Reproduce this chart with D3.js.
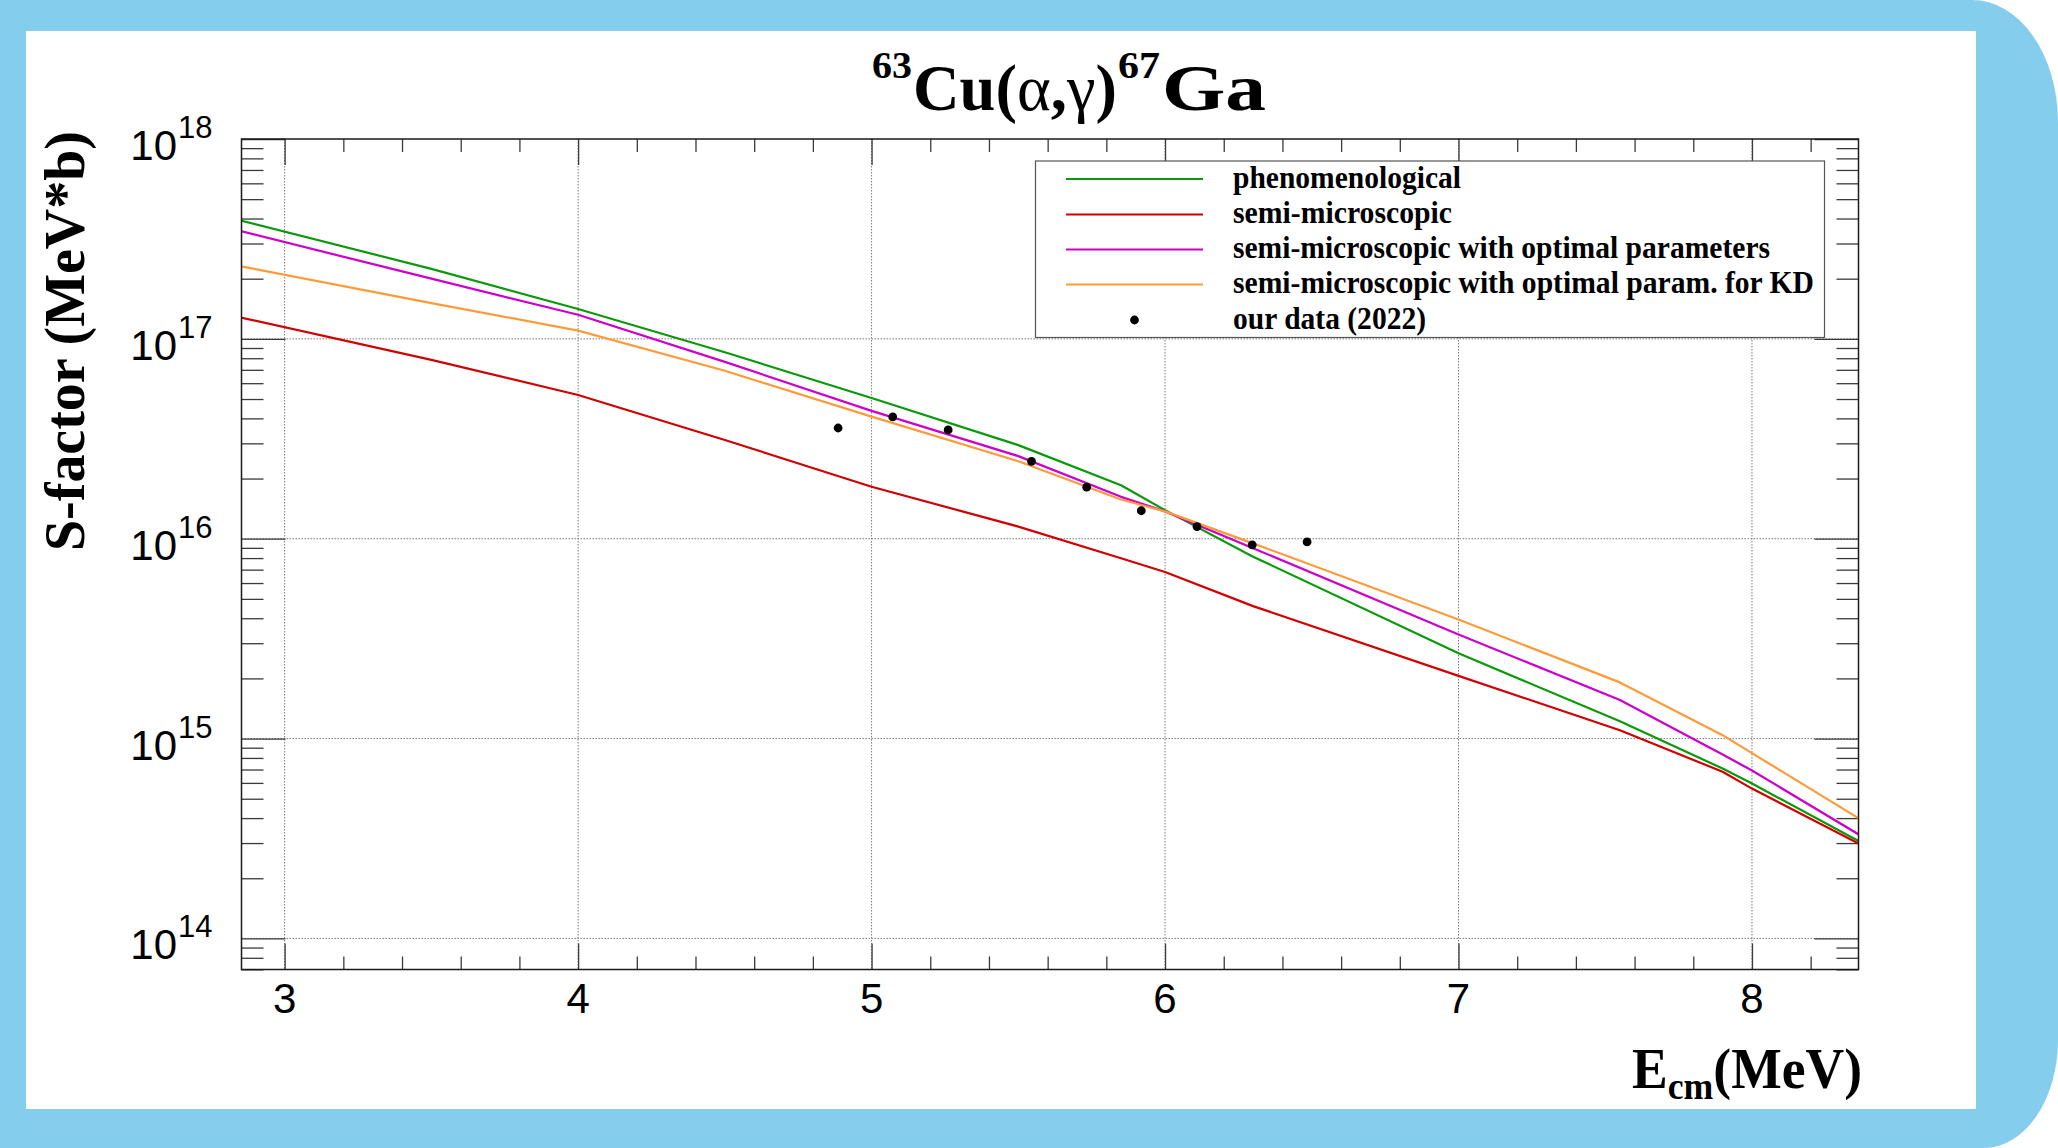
<!DOCTYPE html>
<html>
<head>
<meta charset="utf-8">
<script src="https://cdn.jsdelivr.net/npm/d3@7"></script>
<style>
  html, body { margin: 0; padding: 0; background: #ffffff; }
  svg { display: block; }
</style>
</head>
<body>
<svg id="chart" width="2058" height="1148"></svg>
<script>
// ---------------- data ----------------
const energyGrid = [2.85, 3.5, 4.0, 4.5, 5.0, 5.5, 5.85, 6.0, 6.3, 7.0, 7.55, 7.9, 8.0, 8.37];
const sPhenomenological = [3.91e17, 2.24e17, 1.41e17, 8.57e16, 5.06e16, 2.94e16, 1.85e16, 1.39e16, 8.13e15, 2.67e15, 1.22e15, 7.08e14, 5.96e14, 3.03e14];
const sSemiMicro        = [1.28e17, 7.85e16, 5.24e16, 3.12e16, 1.82e16, 1.15e16, 7.98e15, 6.82e15, 4.60e15, 2.06e15, 1.10e15, 6.82e14, 5.62e14, 2.95e14];
const sSemiMicroOpt     = [3.46e17, 2.00e17, 1.32e17, 7.67e16, 4.36e16, 2.59e16, 1.62e16, 1.37e16, 8.97e15, 3.32e15, 1.56e15, 8.32e14, 6.92e14, 3.27e14];
const sSemiMicroOptKD   = [2.31e17, 1.51e17, 1.10e17, 6.92e16, 4.08e16, 2.44e16, 1.57e16, 1.37e16, 9.48e15, 3.94e15, 1.91e15, 1.04e15, 8.45e14, 3.94e14];

const dataEnergy = [4.886, 5.072, 5.261, 5.545, 5.733, 5.919, 6.109, 6.297, 6.484];
const dataS      = [3.58e16, 4.07e16, 3.50e16, 2.44e16, 1.81e16, 1.38e16, 1.15e16, 9.31e15, 9.64e15];

const seriesNames = [
  "phenomenological",
  "semi-microscopic",
  "semi-microscopic with optimal parameters",
  "semi-microscopic with optimal param. for KD"
];
const pointsName = "our data (2022)";
const seriesColors = ["#0a990a", "#d10000", "#cc00cc", "#ff9a3a"];

const xTickValues = [3, 4, 5, 6, 7, 8];
const xTickLabels = ["3", "4", "5", "6", "7", "8"];
const yTickExponents = [14, 15, 16, 17, 18];
const xDomain = [2.853, 8.363];
const yDomain = [6.99e13, 1e18];

// ---------------- layout ----------------
const W = 2058, H = 1148;
const plot = { left: 241.5, right: 1858.5, top: 139, bottom: 969.5 };
const serif = "'Liberation Serif', 'Times New Roman', serif";
const sans = "'Liberation Sans', Arial, Helvetica, sans-serif";

const svg = d3.select("#chart");

// background frame
svg.append("rect").attr("x", 0).attr("y", 0).attr("width", W).attr("height", H).attr("fill", "#ffffff");
svg.append("path")
  .attr("d", "M0,0 H1972 A86,122 0 0 1 2058,122 V1040 A74,108 0 0 1 1984,1148 H0 Z")
  .attr("fill", "#84cdec");
svg.append("rect").attr("x", 26).attr("y", 31).attr("width", 1950).attr("height", 1078).attr("fill", "#ffffff");

// scales
const x = d3.scaleLinear().domain(xDomain).range([plot.left, plot.right]);
const y = d3.scaleLog().domain(yDomain).range([plot.bottom, plot.top]);

// clip
svg.append("clipPath").attr("id", "plotclip")
  .append("rect").attr("x", plot.left).attr("y", plot.top)
  .attr("width", plot.right - plot.left).attr("height", plot.bottom - plot.top);

// grid
const grid = svg.append("g").attr("stroke", "#7a7a7a").attr("stroke-width", 1).attr("stroke-dasharray", "1.5,1.5");
grid.selectAll("line.gx").data(xTickValues).join("line")
  .attr("x1", d => x(d)).attr("x2", d => x(d)).attr("y1", plot.top).attr("y2", plot.bottom);
grid.selectAll("line.gy").data(yTickExponents.filter(e => e < 18)).join("line")
  .attr("x1", plot.left).attr("x2", plot.right).attr("y1", d => y(Math.pow(10, d))).attr("y2", d => y(Math.pow(10, d)));

// ticks via d3 axes (inward)
const xMinor = d3.range(30, 84, 2).map(v => v / 10).filter(v => v >= xDomain[0] && v <= xDomain[1] && !xTickValues.includes(v));
const yMinor = [];
for (let e = 13; e < 18; e++) for (let m = 2; m <= 9; m++) { const v = m * Math.pow(10, e); if (v >= yDomain[0] && v <= yDomain[1]) yMinor.push(v); }
const yMajor = yTickExponents.map(e => Math.pow(10, e));

function styleAxis(g) {
  g.select(".domain").remove();
  g.selectAll(".tick line").attr("stroke", "#3a3a3a").attr("stroke-width", 1.3);
  g.selectAll(".tick text").remove();
}
svg.append("g").attr("transform", `translate(0,${plot.bottom})`).call(d3.axisBottom(x).tickValues(xTickValues).tickSize(-26)).call(styleAxis);
svg.append("g").attr("transform", `translate(0,${plot.bottom})`).call(d3.axisBottom(x).tickValues(xMinor).tickSize(-13)).call(styleAxis);
svg.append("g").attr("transform", `translate(0,${plot.top})`).call(d3.axisTop(x).tickValues(xTickValues).tickSize(-26)).call(styleAxis);
svg.append("g").attr("transform", `translate(0,${plot.top})`).call(d3.axisTop(x).tickValues(xMinor).tickSize(-13)).call(styleAxis);
svg.append("g").attr("transform", `translate(${plot.left},0)`).call(d3.axisLeft(y).tickValues(yMajor).tickSize(-44)).call(styleAxis);
svg.append("g").attr("transform", `translate(${plot.left},0)`).call(d3.axisLeft(y).tickValues(yMinor).tickSize(-22)).call(styleAxis);
svg.append("g").attr("transform", `translate(${plot.right},0)`).call(d3.axisRight(y).tickValues(yMajor).tickSize(-44)).call(styleAxis);
svg.append("g").attr("transform", `translate(${plot.right},0)`).call(d3.axisRight(y).tickValues(yMinor).tickSize(-22)).call(styleAxis);

// curves
const allSeries = [sPhenomenological, sSemiMicro, sSemiMicroOpt, sSemiMicroOptKD];
const line = d3.line().x(d => x(d[0])).y(d => y(d[1]));
const curves = svg.append("g").attr("clip-path", "url(#plotclip)");
allSeries.forEach((s, i) => {
  curves.append("path")
    .datum(energyGrid.map((e, j) => [e, s[j]]))
    .attr("d", line)
    .attr("fill", "none")
    .attr("stroke", seriesColors[i])
    .attr("stroke-width", 2.2)
    .attr("stroke-linejoin", "round");
});

// data points
svg.append("g").selectAll("circle").data(dataEnergy.map((e, i) => [e, dataS[i]])).join("circle")
  .attr("cx", d => x(d[0])).attr("cy", d => y(d[1])).attr("r", 4.4).attr("fill", "#000");

// frame
svg.append("rect").attr("x", plot.left).attr("y", plot.top)
  .attr("width", plot.right - plot.left).attr("height", plot.bottom - plot.top)
  .attr("fill", "none").attr("stroke", "#1a1a1a").attr("stroke-width", 1.5);

// x tick labels
svg.append("g").selectAll("text").data(xTickValues).join("text")
  .attr("x", d => x(d)).attr("y", 1013)
  .attr("text-anchor", "middle")
  .attr("font-family", sans).attr("font-size", 42).attr("fill", "#000")
  .text((d, i) => xTickLabels[i]);

// y tick labels 10^n
const yl = svg.append("g");
yTickExponents.forEach(e => {
  const yy = y(Math.pow(10, e));
  yl.append("text").attr("x", 177).attr("y", yy + 21).attr("text-anchor", "end")
    .attr("font-family", sans).attr("font-size", 42).attr("fill", "#000").text("10");
  yl.append("text").attr("x", 178).attr("y", yy - 1).attr("text-anchor", "start")
    .attr("font-family", sans).attr("font-size", 31).attr("fill", "#000").text(String(e));
});

// title
const tg = svg.append("g").attr("font-family", serif).attr("font-weight", "bold").attr("fill", "#000");
tg.append("text").attr("x", 872).attr("y", 78).attr("font-size", 38).attr("textLength", 40).attr("lengthAdjust", "spacingAndGlyphs").text("63");
const tmain = tg.append("text").attr("x", 913).attr("y", 110).attr("font-size", 66).attr("textLength", 204).attr("lengthAdjust", "spacingAndGlyphs");
tmain.append("tspan").text("Cu(");
tmain.append("tspan").attr("font-weight", "normal").text("α");
tmain.append("tspan").text(",");
tmain.append("tspan").attr("font-weight", "normal").text("γ");
tmain.append("tspan").text(")");
tg.append("text").attr("x", 1118).attr("y", 78).attr("font-size", 38).attr("textLength", 42).attr("lengthAdjust", "spacingAndGlyphs").text("67");
tg.append("text").attr("x", 1162).attr("y", 110).attr("font-size", 66).attr("textLength", 104).attr("lengthAdjust", "spacingAndGlyphs").text("Ga");

// axis titles
const at = svg.append("g").attr("font-family", serif).attr("font-weight", "bold").attr("fill", "#000");
const xt = at.append("text").attr("x", 1632).attr("y", 1088).attr("font-size", 57)
  .attr("textLength", 230).attr("lengthAdjust", "spacingAndGlyphs");
xt.append("tspan").text("E");
xt.append("tspan").attr("font-size", 38).attr("dy", 11).text("cm");
xt.append("tspan").attr("dy", -11).text("(MeV)");
at.append("text").attr("transform", "translate(84,131) rotate(-90)")
  .attr("text-anchor", "end").attr("font-size", 56)
  .attr("textLength", 420).attr("lengthAdjust", "spacingAndGlyphs")
  .text("S-factor (MeV*b)");

// legend
const lg = svg.append("g");
lg.append("rect").attr("x", 1035.5).attr("y", 161).attr("width", 789).attr("height", 176.5)
  .attr("fill", "#fff").attr("stroke", "#555").attr("stroke-width", 1.2);
const rowY = [179, 214.5, 249.5, 284.5, 320];
const textLens = [228, 219, 537, 581, 193];
seriesNames.forEach((n, i) => {
  lg.append("line").attr("x1", 1066).attr("x2", 1203).attr("y1", rowY[i]).attr("y2", rowY[i])
    .attr("stroke", seriesColors[i]).attr("stroke-width", 2.2);
});
lg.append("circle").attr("cx", 1134.5).attr("cy", rowY[4]).attr("r", 4.4).attr("fill", "#000");
seriesNames.concat([pointsName]).forEach((n, i) => {
  lg.append("text").attr("x", 1233).attr("y", rowY[i] + 8.5)
    .attr("font-family", serif).attr("font-weight", "bold").attr("font-size", 31)
    .attr("textLength", textLens[i]).attr("lengthAdjust", "spacingAndGlyphs")
    .attr("fill", "#000").text(n);
});
</script>
</body>
</html>
